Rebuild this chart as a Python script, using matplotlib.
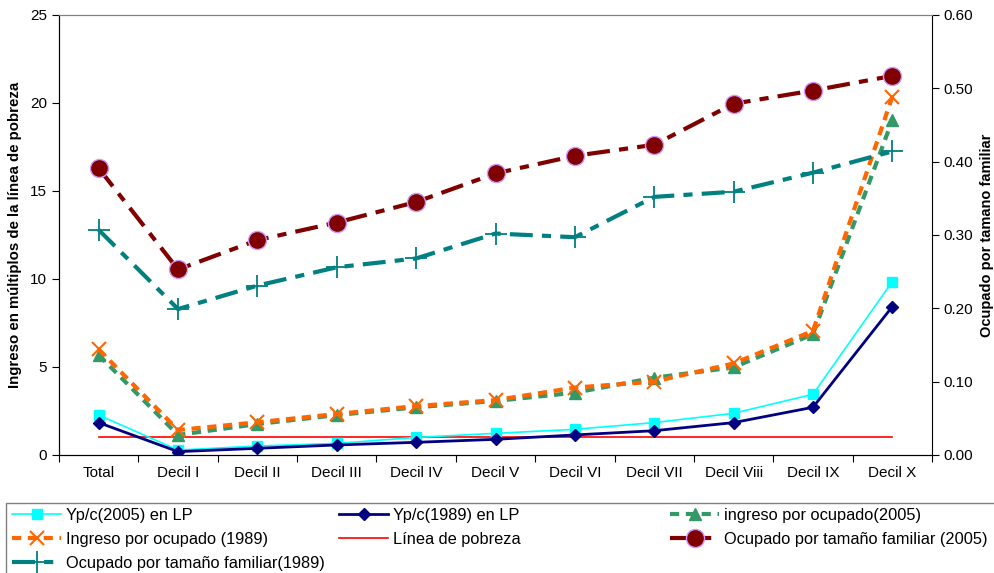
import numpy as np
import matplotlib.pyplot as plt
from matplotlib.patches import Rectangle

plt.rcParams['font.family'] = ['Liberation Sans', 'DejaVu Sans']

categorias = ['Total', 'Decil I', 'Decil II', 'Decil III', 'Decil IV', 'Decil V',
              'Decil VI', 'Decil VII', 'Decil Viii', 'Decil IX', 'Decil X']

# eje izquierdo: multiplos de la linea de pobreza
ypc_2005 = [2.27, 0.28, 0.51, 0.66, 1.00, 1.23, 1.46, 1.84, 2.37, 3.45, 9.85]
ypc_1989 = [1.84, 0.19, 0.38, 0.57, 0.72, 0.89, 1.14, 1.38, 1.84, 2.71, 8.43]
ing_ocup_2005 = [5.68, 1.14, 1.76, 2.27, 2.71, 3.07, 3.54, 4.39, 4.98, 6.86, 19.03]
ing_ocup_1989 = [6.00, 1.42, 1.86, 2.33, 2.78, 3.12, 3.83, 4.17, 5.20, 7.05, 20.36]
linea_pobreza = [1.0] * 11

# eje derecho: ocupado por tamano familiar
ocup_fam_2005 = [0.391, 0.253, 0.293, 0.317, 0.345, 0.384, 0.408, 0.423, 0.479, 0.497, 0.517]
ocup_fam_1989 = [0.307, 0.199, 0.231, 0.256, 0.268, 0.302, 0.297, 0.352, 0.359, 0.385, 0.414]

x = np.arange(len(categorias))

W, H = 994, 573
fig = plt.figure(figsize=(W / 100, H / 100), dpi=100)
ax = fig.add_axes([59 / W, 1 - 455 / H, 873 / W, 440 / H])
ax2 = ax.twinx()

l_cyan, = ax.plot(x, ypc_2005, color='#00FFFF', lw=1.2, marker='s', ms=7,
                  label='Yp/c(2005) en LP', zorder=4)
l_navy, = ax.plot(x, ypc_1989, color='#000080', lw=2, marker='D', ms=6,
                  label='Yp/c(1989) en LP', zorder=5)
l_green, = ax.plot(x, ing_ocup_2005, color='#339966', lw=3, ls=(0, (2.2, 1.6)),
                   marker='^', ms=8, label='ingreso por ocupado(2005)', zorder=3)
l_orange, = ax.plot(x, ing_ocup_1989, color='#FF6600', lw=3, ls=(0, (2.2, 1.6)),
                    marker='x', ms=10, mew=1.5, label='Ingreso por ocupado (1989)', zorder=3)
l_red, = ax.plot(x, linea_pobreza, color='#FF0000', lw=1.2,
                 label='Línea de pobreza', zorder=2)
l_brown, = ax2.plot(x, ocup_fam_2005, color='#800000', lw=3, ls=(0, (5.5, 2.2, 2.2, 2.2)),
                    marker='o', ms=13, mec='#CC99FF', mew=1,
                    label='Ocupado por tamaño familiar (2005)')
l_teal, = ax2.plot(x, ocup_fam_1989, color='#008080', lw=3, ls=(0, (5.5, 2.2, 2.2, 2.2)),
                   marker='+', ms=16, mew=1.3,
                   label='Ocupado por tamaño familiar(1989)')

ax.set_xlim(-0.5, 10.5)
ax.set_ylim(0, 25)
ax2.set_ylim(0, 0.6)
ax.set_yticks(np.arange(0, 26, 5))
ax2.set_yticks(np.arange(0, 0.61, 0.1))
ax2.set_yticklabels(['%.2f' % v for v in np.arange(0, 0.61, 0.1)])

# marcas entre categorias, etiquetas centradas
ax.set_xticks(np.arange(-0.5, 11, 1))
ax.set_xticklabels([])
ax.set_xticks(x, minor=True)
ax.set_xticklabels(categorias, minor=True)
ax.tick_params(axis='x', which='minor', length=0, pad=8, labelsize=11)
ax.tick_params(axis='x', which='major', length=5, direction='out')
ax.tick_params(axis='y', labelsize=11, length=5)
ax2.tick_params(axis='y', labelsize=11, length=5)

for a in (ax, ax2):
    a.spines['top'].set_color('#808080')
ax.spines['right'].set_visible(False)

ax.set_ylabel('Ingreso en múltiplos de la línea de pobreza', fontsize=10.8,
              fontweight='bold', labelpad=6)
ax2.set_ylabel('Ocupado por tamano familiar', fontsize=10.5,
               fontweight='bold', labelpad=5)

# leyenda en tres columnas de ancho fijo, dentro de un recuadro
fig.patches.append(Rectangle((6 / W, -0.05), 1.0, 1 - 503 / H + 0.05,
                             transform=fig.transFigure, fill=False,
                             edgecolor='#808080', lw=1))
columnas = [([l_cyan, l_orange, l_teal], 12),
            ([l_navy, l_red], 339),
            ([l_green, l_brown], 670)]
for hs, x0 in columnas:
    leg = fig.legend(handles=hs, labels=[h.get_label() for h in hs],
                     loc='upper left', bbox_to_anchor=(x0 / W, 1 - 508 / H),
                     fontsize=11.8, frameon=False, handlelength=3.0,
                     handletextpad=0.3, borderpad=0, borderaxespad=0,
                     labelspacing=0.55)

fig.savefig('out.png', dpi=100)
